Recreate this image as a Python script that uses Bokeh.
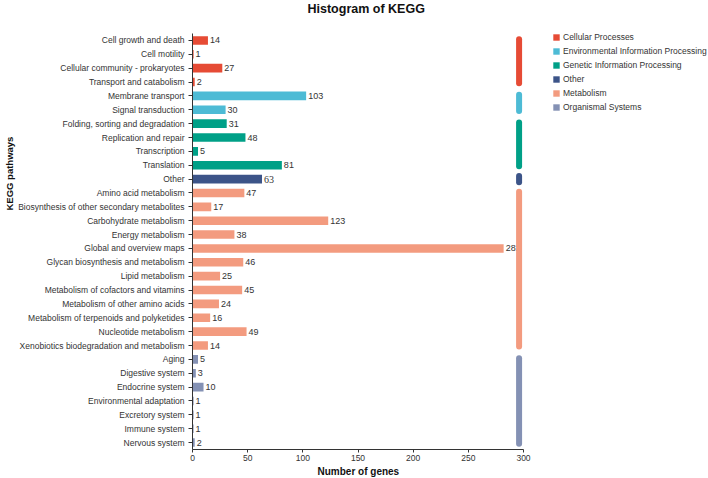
from bokeh.plotting import figure
from bokeh.models import ColumnDataSource, Range1d, FixedTicker, Label, Legend, LegendItem, Title
from bokeh.core.properties import value
from bokeh.embed import file_html
from bokeh.resources import INLINE

pathways = [
    "Cell growth and death", "Cell motility", "Cellular community - prokaryotes",
    "Transport and catabolism", "Membrane transport", "Signal transduction",
    "Folding, sorting and degradation", "Replication and repair", "Transcription",
    "Translation", "Other", "Amino acid metabolism",
    "Biosynthesis of other secondary metabolites", "Carbohydrate metabolism",
    "Energy metabolism", "Global and overview maps", "Glycan biosynthesis and metabolism",
    "Lipid metabolism", "Metabolism of cofactors and vitamins",
    "Metabolism of other amino acids", "Metabolism of terpenoids and polyketides",
    "Nucleotide metabolism", "Xenobiotics biodegradation and metabolism",
    "Aging", "Digestive system", "Endocrine system", "Environmental adaptation",
    "Excretory system", "Immune system", "Nervous system",
]
genes = [14, 1, 27, 2, 103, 30, 31, 48, 5, 81, 63, 47, 17, 123, 38, 282, 46, 25,
         45, 24, 16, 49, 14, 5, 3, 10, 1, 1, 1, 2]
groups = (["Cellular Processes"] * 4 + ["Environmental Information Processing"] * 2
          + ["Genetic Information Processing"] * 4 + ["Other"]
          + ["Metabolism"] * 12 + ["Organismal Systems"] * 7)
group_names = ["Cellular Processes", "Environmental Information Processing",
               "Genetic Information Processing", "Other", "Metabolism",
               "Organismal Systems"]
group_colors = ["#E64B35", "#4DBBD5", "#00A087", "#3C5488", "#F39B7F", "#8491B4"]
gene_ticks = [0, 50, 100, 150, 200, 250, 300]

SANS = "Liberation Sans"
SERIF = "Liberation Serif"
TXT = "#333333"
DARK = "#111111"

# layout (pixels): plotting area spans the full width/top of the canvas so that
# the title and legend can sit inside it; axes are bounded to the data area.
W, H = 708, 478
LEFT, BOTTOM_BORDER = 192, 29
AXIS_RIGHT_PX, AXIS_TOP_PX = 523, 33
FRAME_W = W - LEFT
FRAME_H = H - BOTTOM_BORDER
X_MAX = gene_ticks[-1]
n = len(pathways)
row_px = (FRAME_H - AXIS_TOP_PX) / n
x_end = X_MAX * FRAME_W / (AXIS_RIGHT_PX - LEFT)
y_top = -0.5 - AXIS_TOP_PX / row_px
SIDEBAR_X = 296

color_of = dict(zip(group_names, group_colors))
idx = list(range(n))
serif_rows = [i for i in idx if groups[i] == "Other"]
sans_rows = [i for i in idx if groups[i] != "Other"]

src = ColumnDataSource(dict(
    y=idx, genes=genes, group=groups,
    color=[color_of[g] for g in groups],
))
lab_src = ColumnDataSource(dict(
    y=[idx[i] for i in sans_rows], genes=[genes[i] for i in sans_rows],
    label=[str(genes[i]) for i in sans_rows],
))

p = figure(width=W, height=H, output_backend="svg", toolbar_location=None,
           x_range=Range1d(0, x_end), y_range=Range1d(n - 0.5, y_top),
           min_border_left=LEFT, min_border_right=0, min_border_top=0,
           min_border_bottom=BOTTOM_BORDER)
p.outline_line_color = None
p.xgrid.visible = False
p.ygrid.visible = False
p.background_fill_color = "white"

bars = p.hbar(y="y", left=0, right="genes", height=0.62, source=src,
              fill_color="color", line_color=None)

p.text(x="genes", y="y", text="label", source=lab_src, x_offset=2,
       text_align="left", text_baseline="middle", text_font=value(SANS),
       text_font_size="9px", text_color=TXT)

# group side bars
for g, c in zip(group_names, group_colors):
    rows = [i for i in idx if groups[i] == g]
    d = 0.08 if len(rows) > 1 else 0.22
    p.segment(x0=[SIDEBAR_X], x1=[SIDEBAR_X], y0=[rows[0] - d], y1=[rows[-1] + d],
              line_color=c, line_width=6, line_cap="round")

# serif value for the "Other" row
for i in serif_rows:
    p.add_layout(Label(x=genes[i], y=idx[i], text=str(genes[i]), x_offset=2,
                       text_align="left", text_baseline="middle",
                       text_font=SERIF, text_font_size="10px", text_color=TXT))

# axes
p.yaxis.bounds = (-0.5, n - 0.5)
p.yaxis.ticker = FixedTicker(ticks=idx)
p.yaxis.major_label_overrides = {i: pathways[i] for i in idx}
p.yaxis.major_label_text_font = SANS
p.yaxis.major_label_text_font_size = "8.5px"
p.yaxis.major_label_text_color = TXT
p.yaxis.major_tick_out = 4
p.yaxis.major_tick_in = 0
p.yaxis.minor_tick_out = 0
p.yaxis.minor_tick_in = 0
p.yaxis.major_label_standoff = 4
p.yaxis.axis_line_color = TXT
p.yaxis.major_tick_line_color = TXT

p.xaxis.bounds = (0, X_MAX)
p.xaxis.ticker = FixedTicker(ticks=gene_ticks)
p.xaxis.major_label_text_font = SANS
p.xaxis.major_label_text_font_size = "8.5px"
p.xaxis.major_label_text_color = TXT
p.xaxis.major_tick_out = 3
p.xaxis.major_tick_in = 0
p.xaxis.minor_tick_out = 0
p.xaxis.minor_tick_in = 0
p.xaxis.major_label_standoff = 2
p.xaxis.axis_line_color = TXT
p.xaxis.major_tick_line_color = TXT

# axis titles
p.add_layout(Title(text="Number of genes", align="left", offset=125, standoff=1,
                   text_font=SANS, text_font_size="10px", text_font_style="bold",
                   text_color=DARK), "below")
p.add_layout(Title(text="KEGG pathways", align="left", offset=239, standoff=2,
                   text_font=SANS, text_font_size="9.5px", text_font_style="bold",
                   text_color=DARK), "left")

# chart title
p.add_layout(Label(x=115, y=FRAME_H - 8, x_units="screen", y_units="screen",
                   text="Histogram of KEGG", text_align="left", text_baseline="middle",
                   text_font=SANS, text_font_size="12.5px", text_font_style="bold",
                   text_color=DARK))

legend = Legend(
    items=[LegendItem(label=g, renderers=[bars], index=groups.index(g)) for g in group_names],
    location=(360, FRAME_H - 111.5), orientation="vertical",
    glyph_width=8, glyph_height=8, label_height=10, spacing=4, padding=0, margin=0,
    label_standoff=3, label_text_font=SANS, label_text_font_size="8.5px",
    label_text_color=TXT, border_line_color=None, background_fill_alpha=0,
)
p.add_layout(legend)

open("out.html", "w").write(file_html(p, INLINE))
